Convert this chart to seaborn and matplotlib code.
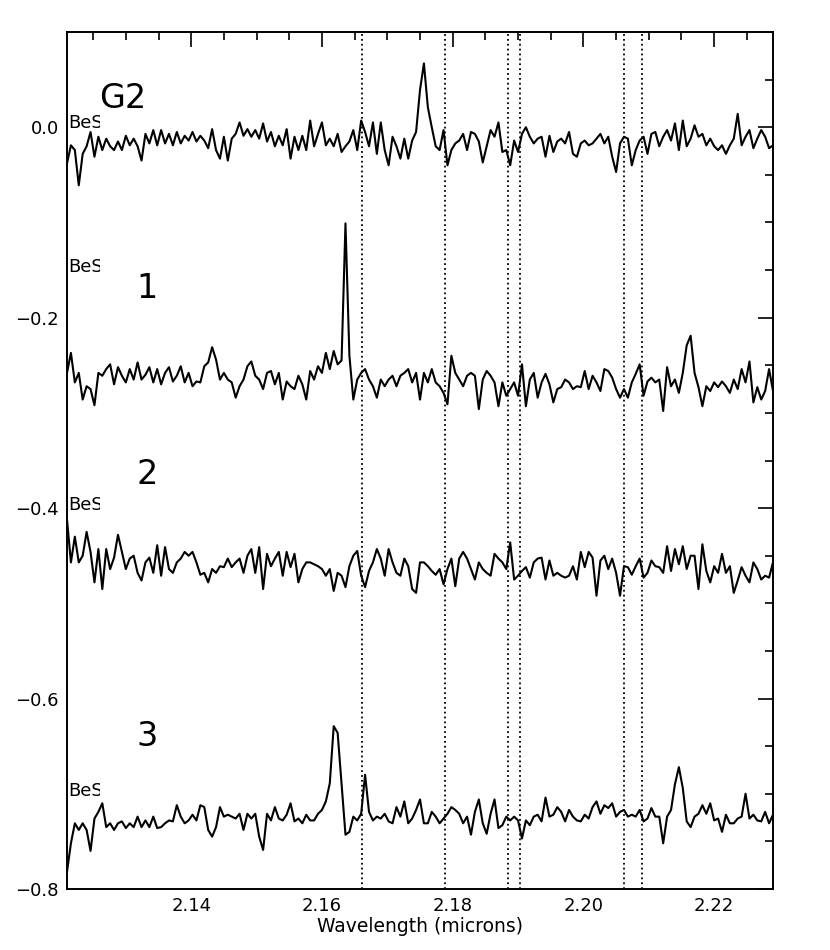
import numpy as np
import pandas as pd
import matplotlib
matplotlib.use("Agg")
import matplotlib.pyplot as plt
import seaborn as sns
from matplotlib.ticker import MultipleLocator, FixedLocator, FormatStrFormatter
from matplotlib.patches import Rectangle

# ---------------- data ----------------
WAVE_MIN, WAVE_MAX = 2.121, 2.229

FLUX_G2 = [
    -0.038, -0.019, -0.024, -0.061, -0.028, -0.020, -0.005, -0.031, -0.010, -0.024,
    -0.012, -0.020, -0.024, -0.015, -0.024, -0.009, -0.019, -0.012, -0.020, -0.035,
    -0.007, -0.017, -0.003, -0.019, -0.003, -0.017, -0.007, -0.019, -0.005, -0.017,
    -0.009, -0.014, -0.005, -0.015, -0.009, -0.014, -0.022, -0.002, -0.024, -0.033,
    -0.010, -0.035, -0.012, -0.007, 0.005, -0.009, -0.002, -0.010, -0.003, -0.012,
    0.004, -0.015, -0.005, -0.020, -0.009, -0.019, -0.002, -0.033, -0.010, -0.024,
    -0.009, -0.024, 0.007, -0.020, -0.007, 0.005, -0.019, -0.012, -0.020, -0.007,
    -0.026, -0.020, -0.015, -0.003, -0.024, 0.007, -0.005, -0.020, 0.005, -0.028,
    0.005, -0.024, -0.040, -0.010, -0.020, -0.033, -0.012, -0.033, -0.014, -0.005,
    0.039, 0.067, 0.021, 0.000, -0.020, -0.024, -0.003, -0.040, -0.024, -0.017,
    -0.014, -0.007, -0.024, -0.005, -0.007, -0.015, -0.037, -0.020, -0.003, -0.010,
    0.005, -0.026, -0.024, -0.040, -0.014, -0.026, -0.007, 0.000, -0.010, -0.017,
    -0.012, -0.010, -0.031, -0.009, -0.026, -0.015, -0.012, -0.017, -0.005, -0.028,
    -0.031, -0.017, -0.014, -0.019, -0.017, -0.012, -0.007, -0.017, -0.010, -0.031,
    -0.047, -0.017, -0.010, -0.012, -0.040, -0.024, -0.014, -0.010, -0.028, -0.007,
    -0.005, -0.020, -0.010, -0.003, -0.014, 0.004, -0.024, 0.007, -0.020, -0.012,
    0.002, -0.010, -0.007, -0.019, -0.012, -0.020, -0.024, -0.019, -0.028, -0.019,
    -0.012, 0.014, -0.019, -0.010, -0.003, -0.022, -0.012, -0.003, -0.010, -0.022,
    -0.019,
]

FLUX_1 = [
    -0.258, -0.237, -0.268, -0.258, -0.286, -0.272, -0.275, -0.292, -0.258, -0.261,
    -0.254, -0.249, -0.270, -0.252, -0.261, -0.268, -0.254, -0.265, -0.247, -0.265,
    -0.260, -0.252, -0.268, -0.254, -0.270, -0.258, -0.252, -0.267, -0.261, -0.251,
    -0.268, -0.258, -0.272, -0.267, -0.268, -0.251, -0.247, -0.231, -0.244, -0.265,
    -0.258, -0.265, -0.268, -0.284, -0.272, -0.265, -0.251, -0.246, -0.261, -0.265,
    -0.275, -0.258, -0.256, -0.270, -0.258, -0.286, -0.267, -0.272, -0.275, -0.261,
    -0.270, -0.286, -0.256, -0.265, -0.251, -0.258, -0.237, -0.254, -0.235, -0.249,
    -0.245, -0.101, -0.240, -0.286, -0.265, -0.258, -0.254, -0.265, -0.272, -0.284,
    -0.265, -0.272, -0.265, -0.261, -0.272, -0.261, -0.258, -0.254, -0.268, -0.258,
    -0.286, -0.258, -0.268, -0.254, -0.268, -0.272, -0.279, -0.291, -0.240, -0.258,
    -0.265, -0.272, -0.261, -0.258, -0.261, -0.296, -0.265, -0.256, -0.261, -0.268,
    -0.293, -0.268, -0.282, -0.275, -0.268, -0.282, -0.249, -0.293, -0.265, -0.258,
    -0.284, -0.268, -0.259, -0.270, -0.289, -0.275, -0.273, -0.265, -0.268, -0.275,
    -0.272, -0.273, -0.256, -0.275, -0.261, -0.268, -0.277, -0.254, -0.256, -0.263,
    -0.275, -0.284, -0.275, -0.284, -0.268, -0.259, -0.249, -0.282, -0.267, -0.263,
    -0.268, -0.265, -0.298, -0.252, -0.272, -0.265, -0.279, -0.258, -0.229, -0.219,
    -0.258, -0.273, -0.293, -0.272, -0.277, -0.268, -0.273, -0.267, -0.272, -0.279,
    -0.265, -0.275, -0.254, -0.268, -0.246, -0.289, -0.273, -0.286, -0.277, -0.254,
    -0.277,
]

FLUX_2 = [
    -0.412, -0.457, -0.430, -0.457, -0.450, -0.425, -0.446, -0.478, -0.443, -0.485,
    -0.443, -0.464, -0.452, -0.428, -0.446, -0.464, -0.453, -0.450, -0.468, -0.476,
    -0.457, -0.452, -0.468, -0.439, -0.471, -0.441, -0.464, -0.468, -0.457, -0.453,
    -0.446, -0.450, -0.446, -0.457, -0.470, -0.468, -0.478, -0.464, -0.468, -0.461,
    -0.462, -0.453, -0.462, -0.457, -0.453, -0.468, -0.450, -0.443, -0.468, -0.441,
    -0.485, -0.448, -0.461, -0.453, -0.446, -0.471, -0.446, -0.462, -0.448, -0.478,
    -0.464, -0.457, -0.457, -0.459, -0.461, -0.464, -0.471, -0.464, -0.487, -0.468,
    -0.471, -0.483, -0.461, -0.450, -0.445, -0.471, -0.483, -0.466, -0.457, -0.443,
    -0.453, -0.471, -0.443, -0.457, -0.468, -0.471, -0.453, -0.461, -0.485, -0.489,
    -0.457, -0.457, -0.461, -0.466, -0.470, -0.464, -0.480, -0.464, -0.453, -0.482,
    -0.453, -0.446, -0.453, -0.464, -0.475, -0.457, -0.464, -0.468, -0.471, -0.448,
    -0.453, -0.457, -0.464, -0.436, -0.475, -0.471, -0.466, -0.462, -0.473, -0.457,
    -0.453, -0.452, -0.475, -0.455, -0.471, -0.468, -0.471, -0.473, -0.471, -0.461,
    -0.475, -0.446, -0.462, -0.446, -0.452, -0.492, -0.455, -0.450, -0.464, -0.453,
    -0.468, -0.492, -0.461, -0.462, -0.470, -0.461, -0.453, -0.473, -0.468, -0.455,
    -0.461, -0.462, -0.468, -0.440, -0.466, -0.443, -0.459, -0.440, -0.464, -0.450,
    -0.450, -0.485, -0.438, -0.466, -0.478, -0.461, -0.468, -0.448, -0.468, -0.461,
    -0.489, -0.476, -0.462, -0.471, -0.478, -0.457, -0.464, -0.475, -0.471, -0.473,
    -0.457,
]

FLUX_3 = [
    -0.782, -0.752, -0.731, -0.738, -0.731, -0.738, -0.760, -0.726, -0.719, -0.710,
    -0.735, -0.731, -0.738, -0.731, -0.729, -0.736, -0.731, -0.735, -0.724, -0.735,
    -0.728, -0.735, -0.724, -0.736, -0.735, -0.731, -0.728, -0.729, -0.712, -0.724,
    -0.731, -0.728, -0.722, -0.728, -0.712, -0.714, -0.738, -0.745, -0.735, -0.714,
    -0.724, -0.722, -0.724, -0.726, -0.721, -0.738, -0.721, -0.726, -0.721, -0.745,
    -0.759, -0.721, -0.728, -0.714, -0.726, -0.728, -0.722, -0.710, -0.729, -0.726,
    -0.731, -0.722, -0.728, -0.728, -0.721, -0.717, -0.708, -0.689, -0.629, -0.636,
    -0.690, -0.743, -0.740, -0.724, -0.728, -0.721, -0.680, -0.719, -0.728, -0.724,
    -0.726, -0.721, -0.729, -0.731, -0.714, -0.724, -0.708, -0.731, -0.726, -0.717,
    -0.706, -0.731, -0.731, -0.719, -0.724, -0.731, -0.726, -0.721, -0.714, -0.717,
    -0.721, -0.731, -0.724, -0.743, -0.719, -0.706, -0.731, -0.742, -0.721, -0.706,
    -0.736, -0.733, -0.724, -0.728, -0.724, -0.728, -0.747, -0.728, -0.733, -0.724,
    -0.722, -0.729, -0.704, -0.724, -0.722, -0.714, -0.719, -0.729, -0.717, -0.724,
    -0.728, -0.729, -0.722, -0.726, -0.714, -0.708, -0.721, -0.712, -0.715, -0.710,
    -0.724, -0.719, -0.717, -0.724, -0.722, -0.724, -0.717, -0.729, -0.726, -0.715,
    -0.724, -0.724, -0.752, -0.724, -0.717, -0.690, -0.672, -0.694, -0.729, -0.735,
    -0.724, -0.721, -0.712, -0.721, -0.710, -0.728, -0.726, -0.740, -0.722, -0.731,
    -0.731, -0.726, -0.724, -0.700, -0.726, -0.722, -0.728, -0.729, -0.719, -0.731,
    -0.722,
]

SPECTRUM_NAMES = ["G2", "1", "2", "3"]
NAME_X = [2.1296, 2.1332, 2.1332, 2.1332]
NAME_Y = [0.030, -0.1695, -0.365, -0.640]
BES_LABEL = "BeS"
BES_X = 2.1212
BES_Y = [0.004, -0.147, -0.397, -0.697]
LINE_WAVES = [2.1661, 2.1789, 2.1885, 2.1903, 2.2062, 2.2090]
X_TICKS = [2.14, 2.16, 2.18, 2.20, 2.22]
Y_TICKS = [-0.8, -0.6, -0.4, -0.2, 0.0]
X_LABEL = "Wavelength (microns)"

# ---------------- style ----------------
sns.set_theme(style="white")
plt.rcParams["font.family"] = ["DejaVu Sans"]
for key in ["text.color", "axes.labelcolor", "xtick.color", "ytick.color", "axes.edgecolor"]:
    plt.rcParams[key] = "black"

fig = plt.figure(figsize=(8.3, 9.5), dpi=100)
fig.patch.set_facecolor("white")
ax = fig.add_axes([67 / 830, 61 / 950, 706 / 830, 857 / 950])

# dotted reference lines
for w in LINE_WAVES:
    ax.axvline(w, color="black", lw=1.3, linestyle=(0, (1, 1.7)), zorder=1)

# spectra
for name, flux in zip(SPECTRUM_NAMES, [FLUX_G2, FLUX_1, FLUX_2, FLUX_3]):
    wave = np.linspace(WAVE_MIN, WAVE_MAX, len(flux))
    df = pd.DataFrame({"wave": wave, "flux": flux})
    sns.lineplot(data=df, x="wave", y="flux", ax=ax, color="black", lw=1.5,
                 sort=False, estimator=None, zorder=2)

# labels ("BeS" tag is partly hidden by a white box, as in the original)
for name, nx, ny, by in zip(SPECTRUM_NAMES, NAME_X, NAME_Y, BES_Y):
    ax.text(nx, ny, name, fontsize=24, ha="center", va="center", color="black", zorder=6)
    ax.text(BES_X, by, BES_LABEL, fontsize=13, ha="left", va="center", color="black", zorder=4)
    ax.add_patch(Rectangle((2.1261, by - 0.0085), 0.0066, 0.017,
                           facecolor="white", edgecolor="none", zorder=5))

# axes
ax.set_xlim(WAVE_MIN, WAVE_MAX)
ax.set_ylim(-0.8, 0.1)
ax.xaxis.set_major_locator(FixedLocator(X_TICKS))
ax.xaxis.set_minor_locator(MultipleLocator(0.005))
ax.xaxis.set_major_formatter(FormatStrFormatter("%.2f"))
ax.yaxis.set_major_locator(FixedLocator(Y_TICKS))
ax.yaxis.set_minor_locator(MultipleLocator(0.05))
ax.tick_params(which="both", direction="in", top=True, right=True, width=1.2, color="black")
ax.tick_params(which="major", length=11, labelsize=13, pad=6)
ax.tick_params(which="minor", length=5.5)
for s in ax.spines.values():
    s.set_linewidth(1.4)
    s.set_color("black")
    s.set_zorder(7)
ax.set_xlabel(X_LABEL, fontsize=13.5, labelpad=1)
ax.set_ylabel("")

fig.savefig("out.png", dpi=100, facecolor="white")
